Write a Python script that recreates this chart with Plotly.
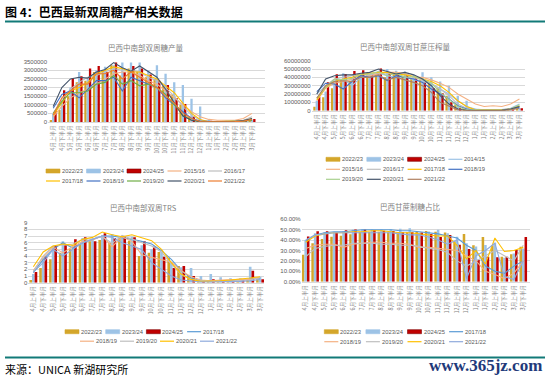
import plotly.graph_objects as go

W, H = 550, 380

categories = ["4月上半月", "4月下半月", "5月上半月", "5月下半月", "6月上半月", "6月下半月",
              "7月上半月", "7月下半月", "8月上半月", "8月下半月", "9月上半月", "9月下半月",
              "10月上半月", "10月下半月", "11月上半月", "11月下半月", "12月上半月", "12月下半月",
              "1月上半月", "1月下半月", "2月上半月", "2月下半月", "3月上半月", "3月下半月"]

# ---- Chart 1: sugar production (t) ----
sugar_2223 = [120000, 700000, 1500000, 2300000, 2400000, 2900000, 3000000, 3300000, 2700000, 3100000, 2900000, 2600000,
              2500000, 2100000, 1600000, 1000000, 350000, 80000, 20000, 10000, 10000, 20000, 40000, 60000]
sugar_2324 = [500000, 1200000, 2000000, 2900000, 2500000, 3000000, 3200000, 3300000, 3450000, 3450000, 3450000, 3000000,
              3300000, 2800000, 2300000, 2150000, 1350000, 900000, 150000, 60000, 30000, 30000, 80000, 150000]
sugar_2425 = [650000, 1850000, 2550000, 2650000, 3100000, 3250000, 2900000, 3450000, 2900000, 3250000, 3100000, 2750000,
              2400000, 2150000, 1400000, 1050000, 320000, 60000, 20000, 10000, 10000, 20000, 60000, 170000]
sugar_1516 = [300000, 900000, 1400000, 1700000, 1900000, 2200000, 2500000, 2800000, 2900000, 2900000, 2700000, 2400000,
              2200000, 1800000, 1400000, 1000000, 600000, 300000, 150000, 100000, 100000, 100000, 200000, 500000]
sugar_1617 = [500000, 1300000, 1900000, 2300000, 2600000, 2700000, 2900000, 3100000, 3000000, 3000000, 2900000, 2600000,
              2400000, 2000000, 1500000, 900000, 400000, 100000, 20000, 20000, 20000, 30000, 100000, 300000]
sugar_1718 = [400000, 1100000, 1800000, 2000000, 2300000, 2800000, 3000000, 3200000, 3100000, 2900000, 2900000, 2700000,
              2500000, 2100000, 1700000, 1100000, 500000, 150000, 20000, 20000, 20000, 30000, 50000, 200000]
sugar_1819 = [800000, 1600000, 1800000, 1400000, 1900000, 2400000, 2400000, 2600000, 1800000, 2600000, 2400000, 2200000,
              2000000, 1400000, 1000000, 600000, 200000, 50000, 10000, 10000, 10000, 20000, 50000, 100000]
sugar_1920 = [500000, 1200000, 1700000, 1700000, 1800000, 2200000, 2300000, 2700000, 2200000, 2400000, 2100000, 2200000,
              2000000, 1600000, 1000000, 400000, 100000, 20000, 10000, 10000, 10000, 20000, 50000, 100000]
sugar_2021 = [900000, 2000000, 2500000, 2600000, 2550000, 2900000, 3050000, 3450000, 3150000, 2950000, 3250000, 2950000,
              2600000, 1900000, 1100000, 350000, 100000, 30000, 10000, 10000, 10000, 20000, 80000, 200000]
sugar_2122 = [400000, 1400000, 1800000, 2200000, 2200000, 2800000, 2800000, 3000000, 2500000, 2900000, 2600000, 2300000,
              2000000, 1500000, 1100000, 500000, 200000, 30000, 10000, 10000, 10000, 20000, 50000, 150000]

# ---- Chart 2: cane crushing (t) ----
cane_2223 = [4800000, 16000000, 27000000, 38000000, 36000000, 44000000, 45000000, 44000000, 40000000, 44000000, 42000000, 38000000,
             37000000, 33000000, 27000000, 18000000, 7000000, 2000000, 500000, 300000, 300000, 500000, 1000000, 2000000]
cane_2324 = [12000000, 23000000, 35000000, 45000000, 40000000, 45000000, 44000000, 48000000, 50000000, 48000000, 47000000, 43000000,
             46000000, 40000000, 35000000, 30000000, 18000000, 12000000, 2000000, 1000000, 500000, 500000, 1500000, 3000000]
cane_2425 = [16800000, 34000000, 43700000, 44000000, 47500000, 48500000, 44500000, 50500000, 45000000, 44500000, 43500000, 39000000,
             34000000, 27000000, 21000000, 10000000, 3000000, 800000, 300000, 200000, 200000, 300000, 1000000, 2800000]
cane_1415 = [20000000, 30000000, 36000000, 38000000, 30000000, 40000000, 43000000, 45000000, 42000000, 40000000, 41000000, 37000000,
             35000000, 32000000, 26000000, 20000000, 12000000, 5000000, 2000000, 1000000, 1000000, 1500000, 3000000, 8000000]
cane_1516 = [12000000, 27000000, 33000000, 35000000, 38000000, 40000000, 42000000, 44000000, 46000000, 46000000, 45000000, 40000000,
             40000000, 37000000, 33000000, 28000000, 20000000, 14000000, 8000000, 5000000, 6000000, 5000000, 8000000, 14000000]
cane_1617 = [15000000, 30000000, 38000000, 40000000, 42000000, 43000000, 44000000, 46000000, 45000000, 44000000, 44000000, 40000000,
             37000000, 33000000, 26000000, 18000000, 8000000, 3000000, 1000000, 1000000, 1000000, 1000000, 2000000, 5000000]
cane_1718 = [13000000, 28000000, 35000000, 38000000, 40000000, 43000000, 45000000, 46000000, 46000000, 44000000, 43000000, 41000000,
             38000000, 35000000, 30000000, 22000000, 12000000, 5000000, 1000000, 1000000, 1000000, 1000000, 2000000, 6000000]
cane_1819 = [23000000, 33000000, 32000000, 26000000, 35000000, 42000000, 40000000, 42000000, 36000000, 42000000, 40000000, 38000000,
             34000000, 26000000, 20000000, 14000000, 6000000, 2000000, 500000, 500000, 500000, 500000, 1500000, 4000000]
cane_1920 = [15000000, 28000000, 38000000, 37000000, 39000000, 44000000, 44000000, 47000000, 42000000, 45000000, 40000000, 41000000,
             38000000, 33000000, 22000000, 14000000, 5000000, 1000000, 500000, 500000, 500000, 500000, 2000000, 7000000]
cane_2021 = [20000000, 38000000, 42000000, 43000000, 43000000, 45000000, 46000000, 50000000, 47000000, 44000000, 46000000, 43000000,
             38000000, 30000000, 18000000, 8000000, 2000000, 500000, 300000, 300000, 300000, 500000, 2000000, 5000000]
cane_2122 = [15000000, 30000000, 35000000, 36000000, 35000000, 40000000, 40000000, 43000000, 37000000, 40000000, 37000000, 34000000,
             30000000, 22000000, 10000000, 5000000, 1000000, 300000, 200000, 200000, 200000, 300000, 1000000, 3000000]

# ---- Chart 3: TRS ----
trs_2223 = [0.4, 2.2, 3.5, 4.5, 5.0, 5.8, 6.2, 6.4, 6.0, 6.7, 6.3, 4.0, 4.5, 4.6, 3.7, 2.5, 1.1, 0.4, 0.2, 0.2, 0.3, 0.3, 0.4, 0.5]
trs_2324 = [1.3, 3.6, 5.5, 6.2, 5.6, 6.7, 6.6, 7.1, 7.3, 7.0, 6.9, 5.6, 5.0, 4.6, 3.1, 2.3, 2.2, 1.0, 1.3, 0.8, 0.65, 0.65, 2.4, 0.9]
trs_2425 = [1.6, 3.9, 5.5, 5.6, 6.5, 6.8, 6.2, 7.4, 6.7, 7.0, 6.8, 6.2, 5.4, 3.9, 2.2, 2.5, 1.0, 0.3, 0.5, 0.3, 0.4, 0.4, 1.8, 0.5]
trs_1718 = [1.5, 3.5, 5.0, 6.0, 5.2, 6.0, 6.5, 7.0, 7.0, 6.8, 6.5, 6.2, 5.8, 4.8, 3.5, 1.8, 0.7, 0.3, 0.2, 0.2, 0.3, 0.4, 0.5, 0.7]
trs_1819 = [1.8, 3.8, 5.3, 4.5, 5.4, 6.2, 6.4, 7.0, 5.4, 6.9, 6.2, 4.2, 3.8, 3.5, 3.1, 1.8, 0.9, 0.4, 0.3, 0.4, 0.5, 0.5, 0.5, 0.8]
trs_1920 = [1.7, 4.0, 5.5, 5.6, 5.8, 6.5, 6.6, 6.9, 5.9, 7.1, 6.5, 6.0, 5.5, 4.6, 2.8, 1.2, 0.5, 0.3, 0.2, 0.2, 0.3, 0.4, 0.4, 0.8]
trs_2021 = [2.4, 4.6, 5.5, 5.8, 5.6, 6.5, 6.8, 7.6, 7.2, 6.9, 7.2, 6.8, 6.3, 5.0, 3.0, 1.3, 0.5, 0.2, 0.2, 0.3, 0.4, 0.5, 0.7, 0.9]
trs_2122 = [1.6, 3.0, 5.0, 4.0, 5.0, 6.0, 6.5, 7.0, 6.8, 6.0, 5.5, 5.0, 3.0, 2.0, 1.0, 0.4, 0.2, 0.1, 0.1, 0.1, 0.2, 0.2, 0.3, 0.5]

# ---- Chart 4: sugar mix (%) ----
mix_2223 = [26.0, 37.0, 41.0, 43.3, 44.3, 45.6, 48.0, 48.0, 48.0, 47.5, 47.5, 47.5, 48.0, 48.8, 48.0, 47.3, 39.0, 45.8, 35.0, 43.0, 35.0, 24.0, 26.5, 33.5]
mix_2324 = [40.0, 46.5, 47.5, 47.5, 48.5, 50.3, 50.5, 50.5, 50.5, 50.5, 50.8, 51.3, 47.3, 48.2, 50.0, 46.5, 43.3, 37.0, 33.8, 35.3, 37.5, 23.0, 27.0, 32.0]
mix_2425 = [43.5, 48.5, 48.5, 47.5, 49.5, 50.3, 50.3, 49.8, 49.0, 48.7, 47.5, 47.5, 47.3, 45.8, 43.0, 45.0, 35.5, 31.5, 21.0, 24.0, 23.5, 24.0, 30.5, 43.0]
mix_1718 = [39.0, 45.0, 47.0, 48.0, 48.0, 49.0, 50.0, 50.0, 50.0, 50.0, 49.0, 49.0, 48.0, 47.0, 46.0, 44.0, 42.0, 35.0, 30.0, 15.0, 10.0, 8.0, 15.0, 20.0]
mix_1819 = [32.0, 35.0, 36.0, 36.0, 33.0, 36.0, 37.0, 38.0, 38.0, 37.0, 37.0, 36.0, 33.0, 33.0, 32.0, 31.0, 30.0, 25.0, 20.0, 10.0, 7.0, 3.0, 8.0, 20.0]
mix_1920 = [24.0, 32.0, 34.0, 35.0, 35.0, 37.0, 37.0, 37.0, 36.0, 36.0, 35.0, 35.0, 34.0, 32.0, 31.0, 28.0, 20.0, 15.0, 20.0, 25.0, 30.0, 25.0, 20.0, 35.0]
mix_2021 = [38.0, 44.0, 46.0, 47.0, 47.0, 48.0, 48.0, 49.0, 49.0, 48.0, 47.0, 47.0, 46.0, 45.0, 44.0, 44.0, 35.0, 22.0, 30.0, 17.0, 42.0, 29.0, 30.0, 33.0]
mix_2122 = [40.0, 45.0, 46.0, 47.0, 47.0, 47.0, 47.0, 47.0, 47.0, 47.0, 46.0, 45.0, 45.0, 43.0, 40.0, 36.0, 40.0, 3.0, 25.0, 30.0, 37.0, 5.0, 2.0, 20.0]

# ---- styles ----
GOLD, LBLUE, RED = "#D4A62A", "#9DC3E6", "#C00000"
TEXT_GREY, GRID = "#595959", "#D9D9D9"
FONT = "Noto Sans CJK SC, Liberation Sans, sans-serif"
NUMFONT = "Liberation Sans, Arial, sans-serif"

fig = go.Figure()


def px_x(p):
    return p / W


def px_y(p):
    return 1 - p / H


def add_bars(ax, series):
    for name, vals, color in series:
        fig.add_trace(go.Bar(x=categories, y=vals, name=name, marker=dict(color=color, line=dict(width=0)),
                             xaxis="x" + ax, yaxis="y" + ax, showlegend=False))


def add_lines(ax, series):
    for name, vals, color in series:
        fig.add_trace(go.Scatter(x=categories, y=vals, name=name, mode="lines", line=dict(color=color, width=1.1),
                                 xaxis="x" + ax, yaxis="y" + ax, showlegend=False))


# Chart 1
add_lines("", [("2015/16", sugar_1516, "#F4B183"), ("2016/17", sugar_1617, "#BFBFBF"), ("2017/18", sugar_1718, "#FFC000"),
               ("2018/19", sugar_1819, "#4472C4"), ("2019/20", sugar_1920, "#70AD47"), ("2020/21", sugar_2021, "#44546A"),
               ("2021/22", sugar_2122, "#ED7D31")])
add_bars("", [("2022/23", sugar_2223, GOLD), ("2023/24", sugar_2324, LBLUE), ("2024/25", sugar_2425, RED)])
# Chart 2
add_bars("2", [("2022/23", cane_2223, GOLD), ("2023/24", cane_2324, LBLUE), ("2024/25", cane_2425, RED)])
add_lines("2", [("2014/15", cane_1415, "#9DC3E6"), ("2015/16", cane_1516, "#F4B183"), ("2016/17", cane_1617, "#BFBFBF"),
                ("2017/18", cane_1718, "#FFC000"), ("2018/19", cane_1819, "#4472C4"), ("2019/20", cane_1920, "#A9D18E"),
                ("2020/21", cane_2021, "#44546A"), ("2021/22", cane_2122, "#B08060")])
# Chart 3
add_bars("3", [("2022/23", trs_2223, GOLD), ("2023/24", trs_2324, LBLUE), ("2024/25", trs_2425, RED)])
add_lines("3", [("2017/18", trs_1718, "#5B9BD5"), ("2018/19", trs_1819, "#F4B183"), ("2019/20", trs_1920, "#BFBFBF"),
                ("2020/21", trs_2021, "#FFC000"), ("2021/22", trs_2122, "#8FAADC")])
# Chart 4
add_bars("4", [("2022/23", mix_2223, GOLD), ("2023/24", mix_2324, LBLUE), ("2024/25", mix_2425, RED)])
add_lines("4", [("2017/18", mix_1718, "#5B9BD5"), ("2018/19", mix_1819, "#F4B183"), ("2019/20", mix_1920, "#BFBFBF"),
                ("2020/21", mix_2021, "#FFC000"), ("2021/22", mix_2122, "#8FAADC")])

tickfont = dict(family=NUMFONT, size=6, color=TEXT_GREY)


def xaxis(dom_px, rng, anchor):
    return dict(type="category", domain=[px_x(dom_px[0]), px_x(dom_px[1])], range=rng, tickangle=-90, anchor=anchor,
                tickfont=dict(family=FONT, size=5.6, color="#7F7F7F"), showgrid=False, showline=True,
                linecolor=GRID, linewidth=1, ticks="", fixedrange=True, automargin=False)


def yaxis(dom_px, anchor, rng, dtick, fmt, suffix=""):
    return dict(domain=[px_y(dom_px[1]), px_y(dom_px[0])], anchor=anchor, range=rng, dtick=dtick,
                tickformat=fmt, ticksuffix=suffix, tickfont=tickfont, showgrid=True, gridcolor=GRID,
                gridwidth=0.8, zeroline=False, showline=False, ticks="", automargin=False)


fig.update_layout(
    width=W, height=H, margin=dict(l=0, r=0, t=0, b=0), paper_bgcolor="white", plot_bgcolor="white",
    barmode="group", bargap=0.2, bargroupgap=0, showlegend=False,
    font=dict(family=FONT, color=TEXT_GREY),
    xaxis=xaxis((48, 265), [-0.6, 24.5], "y"), yaxis=yaxis((61.7, 122), "x", [0, 3500000], 500000, "d"),
    xaxis2=xaxis((311.7, 525), [-0.58, 23.63], "y2"), yaxis2=yaxis((60.7, 110.7), "x2", [0, 60000000], 10000000, "d"),
    xaxis3=xaxis((28.3, 264), [-0.51, 23.4], "y3"), yaxis3=yaxis((222.7, 282.7), "x3", [0, 9], 1, "d"),
    xaxis4=xaxis((301.7, 530), [-0.42, 23.71], "y4"), yaxis4=yaxis((219.3, 281.7), "x4", [0, 60], 10, ".2f", "%"),
)

annotations = []
shapes = []


def text(x, y, s, size, color, anchor="center", family=FONT):
    annotations.append(dict(x=px_x(x), y=px_y(y), xref="paper", yref="paper", text=s, showarrow=False,
                            xanchor=anchor, yanchor="middle", borderpad=0, borderwidth=0,
                            font=dict(family=family, size=size, color=color)))


# Header and footer
text(5, 11.5, "<b>图 4：巴西最新双周糖产相关数据</b>", 12, "#000000", "left")
shapes.append(dict(type="line", xref="paper", yref="paper", x0=px_x(5), x1=px_x(545), y0=px_y(21.5), y1=px_y(21.5),
                   line=dict(color="#127A78", width=2)))
shapes.append(dict(type="line", xref="paper", yref="paper", x0=px_x(5), x1=px_x(545), y0=px_y(357.5), y1=px_y(357.5),
                   line=dict(color="#127A78", width=2)))
text(5, 369, "来源：UNICA 新湖研究所", 11, "#000000", "left")
text(542, 365, "<b>www.365jz.com</b>", 17, "#1F3A7A", "right", "Liberation Serif, serif")

# Chart titles
text(145, 48, "巴西中南部双周糖产量", 7.5, "#7F7F7F")
text(405, 46.7, "巴西中南部双周甘蔗压榨量", 7.5, "#7F7F7F")
text(143.5, 207.7, "巴西中南部双周TRS", 7.5, "#7F7F7F")
text(410, 206, "巴西甘蔗制糖占比", 7.5, "#7F7F7F")

# Legends (drawn from names + styles)
BAR_NAMES = {"2022/23", "2023/24", "2024/25"}


def legend(rows):
    for (x0, y, step), items in rows:
        for i, (name, color) in enumerate(items):
            sx = x0 + i * step
            if name in BAR_NAMES:
                shapes.append(dict(type="rect", xref="paper", yref="paper", x0=px_x(sx), x1=px_x(sx + 14),
                                   y0=px_y(y + 2), y1=px_y(y - 2), fillcolor=color,
                                   line=dict(width=0.6, color="#7F0000" if color == RED else color)))
            else:
                shapes.append(dict(type="line", xref="paper", yref="paper", x0=px_x(sx), x1=px_x(sx + 14),
                                   y0=px_y(y), y1=px_y(y), line=dict(color=color, width=1.2)))
            text(sx + 16, y, name, 5.8, TEXT_GREY, "left", NUMFONT)


legend([((46, 171, 40.5), [("2022/23", GOLD), ("2023/24", LBLUE), ("2024/25", RED), ("2015/16", "#F4B183"), ("2016/17", "#BFBFBF")]),
        ((46, 181, 40.5), [("2017/18", "#FFC000"), ("2018/19", "#4472C4"), ("2019/20", "#70AD47"), ("2020/21", "#44546A"), ("2021/22", "#ED7D31")])])
legend([((326, 159.3, 40.8), [("2022/23", GOLD), ("2023/24", LBLUE), ("2024/25", RED), ("2014/15", "#9DC3E6")]),
        ((326, 169.3, 40.8), [("2015/16", "#F4B183"), ("2016/17", "#BFBFBF"), ("2017/18", "#FFC000"), ("2018/19", "#4472C4")]),
        ((326, 179.3, 40.8), [("2019/20", "#A9D18E"), ("2020/21", "#44546A"), ("2021/22", "#B08060")])])
legend([((65, 331.7, 40.7), [("2022/23", GOLD), ("2023/24", LBLUE), ("2024/25", RED), ("2017/18", "#5B9BD5")]),
        ((80, 341.2, 40.0), [("2018/19", "#F4B183"), ("2019/20", "#BFBFBF"), ("2020/21", "#FFC000"), ("2021/22", "#8FAADC")])])
legend([((324.3, 331.7, 41.6), [("2022/23", GOLD), ("2023/24", LBLUE), ("2024/25", RED), ("2017/18", "#5B9BD5")]),
        ((324.3, 341.7, 41.6), [("2018/19", "#F4B183"), ("2019/20", "#BFBFBF"), ("2020/21", "#FFC000"), ("2021/22", "#8FAADC")])])

fig.update_layout(annotations=annotations, shapes=shapes)
fig.write_html("out.html", config={"displayModeBar": False},
               post_script="document.body.style.margin='0';document.body.style.overflow='hidden';")
